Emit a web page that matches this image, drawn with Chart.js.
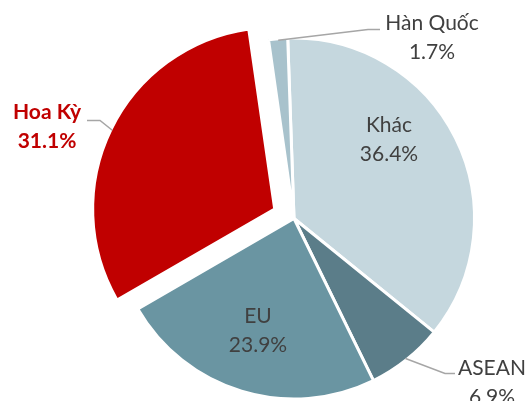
<!DOCTYPE html>
<html>
<head>
<meta charset="utf-8">
<script src="https://cdn.jsdelivr.net/npm/chart.js@4.4.1/dist/chart.umd.min.js"></script>
<style>
  html, body { margin: 0; padding: 0; background: #fff; }
  #wrap { width: 529px; height: 401px; position: relative; }
</style>
</head>
<body>
<div id="wrap"><canvas id="pieChart"></canvas></div>
<script>
const MARKETS = ['Khác', 'ASEAN', 'EU', 'Hoa Kỳ', 'Hàn Quốc'];
const SHARES = [36.4, 6.9, 23.9, 31.1, 1.7];
const SLICE_COLORS = ['#C5D7DE', '#5B7D89', '#6A95A2', '#C00000', '#A8C2CC'];
const EXPLODE_PX = [0, 0, 0, 23, 0];

// where each label sits, px from the pie centre (text = first line centre)
const LABEL_LAYOUT = [
  { text: [95, -93] },
  { text: [198, 150], elbow: [151, 155], end: [161, 155] },
  { text: [-36, 98] },
  { text: [-247, -106], elbow: [-194, -98], end: [-207, -98], bold: true, color: '#C00000' },
  { text: [138, -195], elbow: [74, -189], end: [86, -189] }
];
const LINE_GAP = 29;
const FONT = 'Lato, "Open Sans", sans-serif';

// chart.js moves an exploded arc by offset/4 * (2 - sin(circumference))
function shiftFactor(share) {
  const circ = share / 100 * Math.PI * 2;
  return (2 - Math.sin(Math.min(Math.PI, circ))) / 4;
}
const offsets = SHARES.map((s, i) => EXPLODE_PX[i] ? EXPLODE_PX[i] / shiftFactor(s) : 0);

const sliceLabels = {
  id: 'sliceLabels',
  afterDatasetsDraw(chart) {
    const ctx = chart.ctx;
    const arcs = chart.getDatasetMeta(0).data;
    arcs.forEach((arc, i) => {
      const lay = LABEL_LAYOUT[i];
      const cx = arc.x, cy = arc.y;
      ctx.save();
      if (lay.elbow) {
        const mid = (arc.startAngle + arc.endAngle) / 2;
        const r = arc.outerRadius - 1.5 + EXPLODE_PX[i];
        ctx.strokeStyle = '#A6A6A6';
        ctx.lineWidth = 1.5;
        ctx.beginPath();
        ctx.moveTo(cx + Math.cos(mid) * r, cy + Math.sin(mid) * r);
        ctx.lineTo(cx + lay.elbow[0], cy + lay.elbow[1]);
        ctx.lineTo(cx + lay.end[0], cy + lay.end[1]);
        ctx.stroke();
      }
      ctx.fillStyle = lay.color || '#404040';
      ctx.font = (lay.bold ? 'bold ' : '') + '21px ' + FONT;
      ctx.textAlign = 'center';
      ctx.textBaseline = 'middle';
      const tx = cx + lay.text[0], ty = cy + lay.text[1];
      ctx.fillText(MARKETS[i], tx, ty);
      ctx.fillText(SHARES[i].toFixed(1) + '%', tx, ty + LINE_GAP);
      ctx.restore();
    });
  }
};

new Chart(document.getElementById('pieChart'), {
  type: 'pie',
  data: {
    labels: MARKETS,
    datasets: [{
      data: SHARES,
      backgroundColor: SLICE_COLORS,
      borderColor: '#FFFFFF',
      borderWidth: 3,
      offset: offsets
    }]
  },
  options: {
    responsive: true,
    maintainAspectRatio: false,
    animation: false,
    rotation: -2,
    radius: 180.5,
    layout: { padding: { left: 59, top: 36, right: 0, bottom: 0 } },
    plugins: {
      legend: { display: false },
      tooltip: { enabled: false }
    }
  },
  plugins: [sliceLabels]
});
</script>
</body>
</html>
